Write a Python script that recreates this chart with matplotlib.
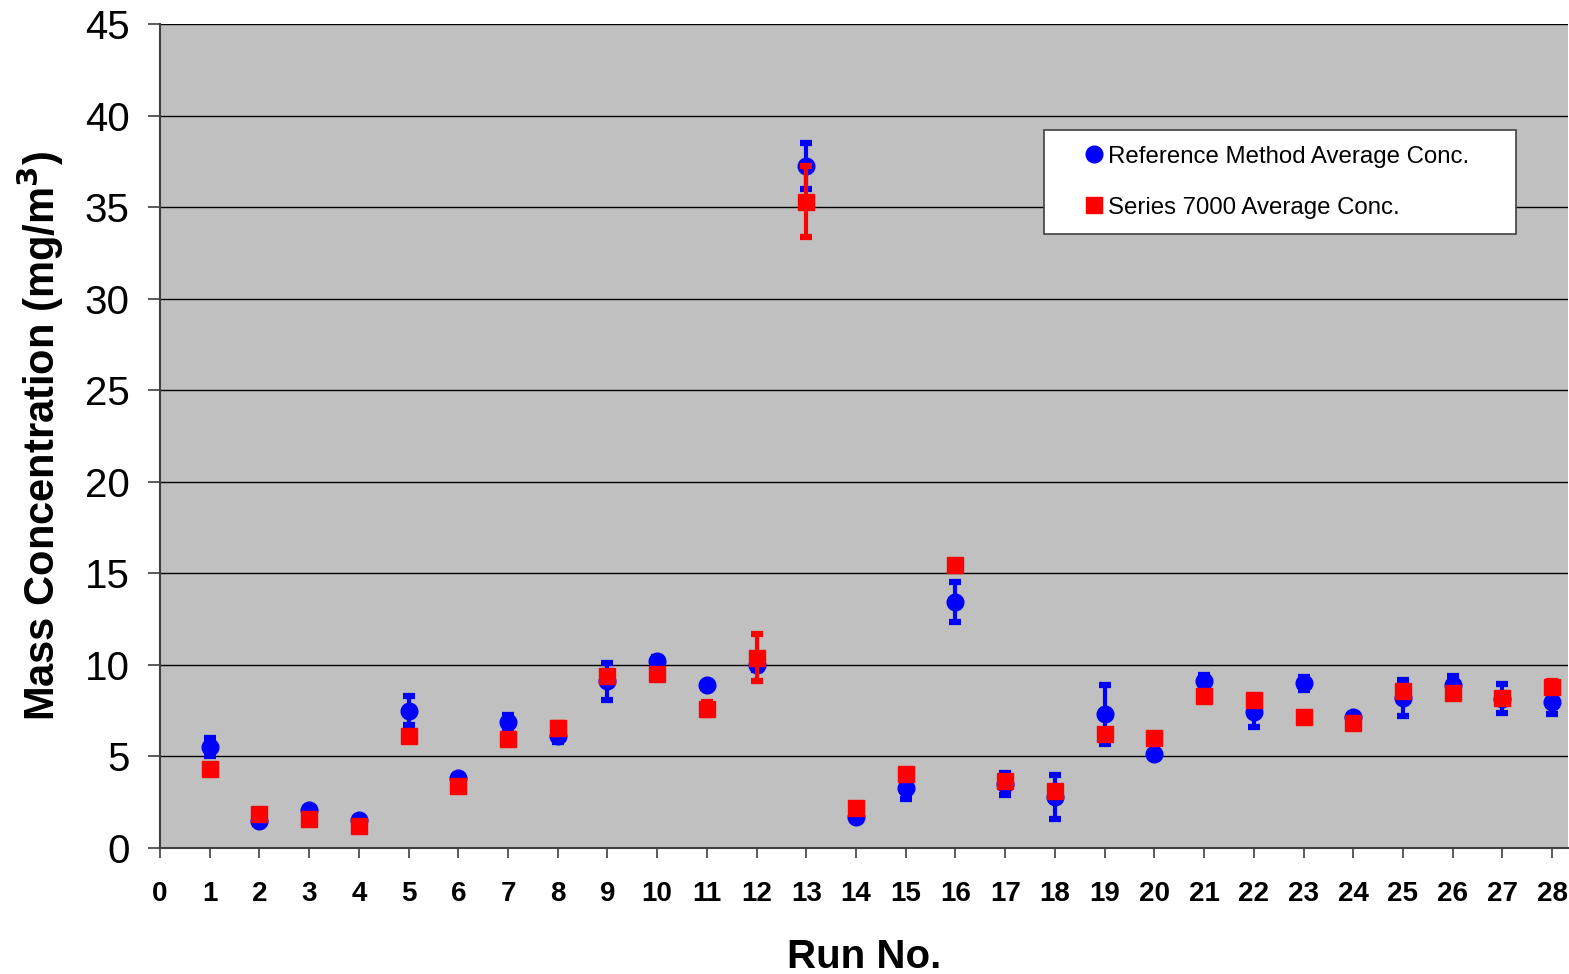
import numpy as np
import matplotlib.pyplot as plt
from matplotlib.lines import Line2D

plt.rcParams["font.family"] = ["Liberation Sans", "DejaVu Sans"]

runs = np.arange(1, 29)

ref_conc = [5.5, 1.5, 2.05, 1.55, 7.5, 3.85, 6.9, 6.1, 9.1, 10.2,
            8.9, 10.0, 37.25, 1.7, 3.25, 13.45, 3.5, 2.8, 7.3, 5.15,
            9.1, 7.4, 9.0, 7.15, 8.2, 8.9, 8.15, 8.0]
ref_err = [0.5, 0.1, 0.1, 0.1, 0.8, 0.15, 0.35, 0.3, 1.0, 0.25,
           0.1, 0.3, 1.25, 0.1, 0.6, 1.1, 0.6, 1.2, 1.6, 0.1,
           0.35, 0.8, 0.35, 0.1, 1.0, 0.5, 0.8, 0.7]

s7000_conc = [4.3, 1.85, 1.6, 1.2, 6.1, 3.4, 5.95, 6.55, 9.4, 9.5,
              7.6, 10.4, 35.3, 2.2, 4.05, 15.45, 3.65, 3.1, 6.2, 6.0,
              8.3, 8.1, 7.15, 6.85, 8.6, 8.45, 8.2, 8.8]
s7000_err = [0.1, 0.1, 0.1, 0.1, 0.1, 0.1, 0.1, 0.3, 0.2, 0.1,
             0.35, 1.3, 1.95, 0.1, 0.1, 0.15, 0.1, 0.15, 0.1, 0.1,
             0.1, 0.1, 0.1, 0.1, 0.1, 0.1, 0.2, 0.3]

fig = plt.figure(figsize=(15.69, 9.74), dpi=100)
ax = fig.add_axes([160 / 1569, 1 - 848 / 974, 1408 / 1569, 824 / 974])
ax.set_facecolor("#C0C0C0")

ax.errorbar(runs, ref_conc, yerr=ref_err, fmt="o", color="#0000FF",
            ms=12, elinewidth=3, capsize=4.5, capthick=4.5, zorder=3)
ax.errorbar(runs, s7000_conc, yerr=s7000_err, fmt="s", color="#FF0000",
            ms=12, elinewidth=3, capsize=4.5, capthick=4.5, zorder=4)

ax.set_xlim(0, 28.32)
ax.set_ylim(0, 45)
ax.set_xticks(np.arange(0, 29))
ax.set_yticks(np.arange(0, 46, 5))
ax.yaxis.grid(True, color="black", linewidth=1.0)
ax.set_axisbelow(True)

for side in ["top", "right"]:
    ax.spines[side].set_visible(False)
for side in ["left", "bottom"]:
    ax.spines[side].set_color("#404040")
    ax.spines[side].set_linewidth(1.5)

ax.tick_params(axis="y", labelsize=29, length=9, width=1.2, color="#404040", pad=13)
ax.tick_params(axis="x", labelsize=20, length=7, width=1.2, color="#404040", pad=17)
for lbl in ax.get_xticklabels():
    lbl.set_fontweight("bold")

ax.set_xlabel("Run No.", fontsize=29, fontweight="bold", labelpad=22)
ax.set_ylabel("Mass Concentration (mg/m$^\\mathbf{3}$)", fontsize=30,
              fontweight="bold")
ax.yaxis.set_label_coords(-0.067, 0.5)

handles = [
    Line2D([], [], marker="o", color="#0000FF", linestyle="none", ms=12),
    Line2D([], [], marker="s", color="#FF0000", linestyle="none", ms=12),
]
leg = ax.legend(handles, ["Reference Method Average Conc.", "Series 7000 Average Conc."],
                loc="upper left", bbox_to_anchor=(0.628, 0.745, 0.335, 0.126),
                mode="expand", fontsize=17.3,
                frameon=True, fancybox=False, framealpha=1, edgecolor="#404040",
                handlelength=2.85, handletextpad=-0.85, labelspacing=1.2,
                borderpad=0.64, borderaxespad=0)
leg.get_frame().set_linewidth(1.2)

fig.savefig("out.png", dpi=100)
